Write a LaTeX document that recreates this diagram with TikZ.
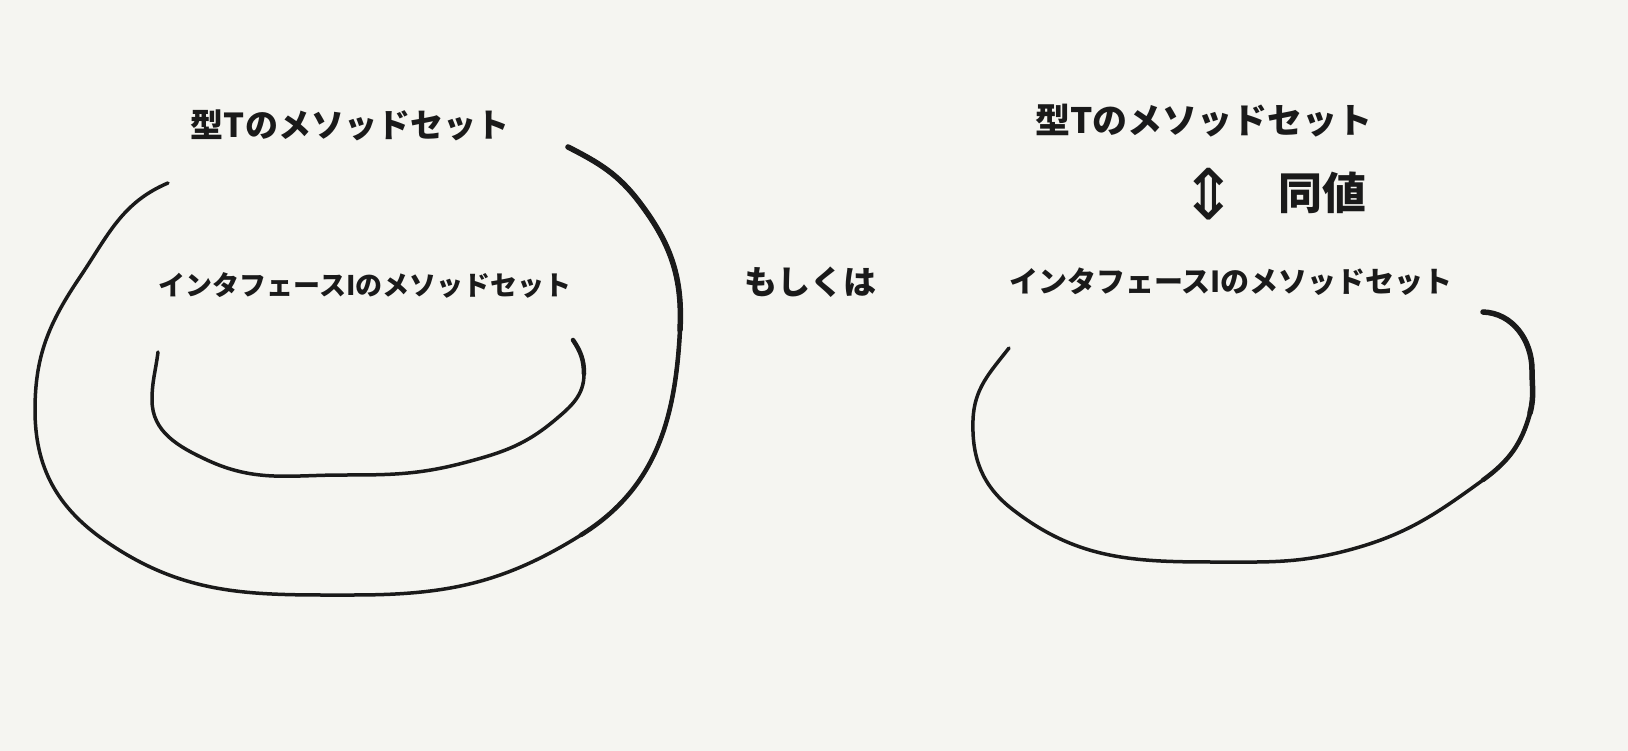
\documentclass[tikz,border=0pt]{standalone}
\usepackage{fontspec}
\newfontfamily\jp{Noto Sans CJK JP}
\newfontfamily\sym{DejaVu Sans}
\definecolor{bg}{HTML}{F5F5F1}
\definecolor{ink}{HTML}{1A1A1A}
\tikzset{
  curve/.style={draw=ink, line width=3.5pt, line cap=round, line join=round},
  mid end/.style={curve, line width=4.5pt},
  thick end/.style={curve, line width=5.5pt},
  lab/.style={text=ink, inner sep=0pt, font=\jp\bfseries\fontsize{33}{33}\selectfont},
  labsm/.style={text=ink, inner sep=0pt, font=\jp\bfseries\fontsize{27}{27}\selectfont}
}
\begin{document}
\begin{tikzpicture}[x=1pt,y=-1pt]
\fill[bg] (0,0) rectangle (1628,751);
\useasboundingbox (0,0) rectangle (1628,751);
% left outer
\draw[curve] (168,183) to[out=-157, in=-304] (80,277)
  to[out=-124, in=-270] (35,410)
  to[out=-90, in=-215] (104,540)
  to[out=-35, in=-180] (353,595)
  to[out=0, in=-148] (581,535)
  to[out=-328, in=-93] (680,330)
  to[out=-273, in=-53] (640,203)
  to[out=-233, in=-27] (568,147);
\draw[mid end] (581,535) to[out=-328, in=-93] (680,330)
  to[out=-273, in=-53] (640,203)
  to[out=-233, in=-27] (568,147);
\draw[thick end] (680,330) to[out=-273, in=-53] (640,203)
  to[out=-233, in=-27] (568,147);
% left inner
\draw[curve] (158,352) to[out=-97, in=-270] (152,400)
  to[out=-90, in=-205] (207,460)
  to[out=-25, in=-180] (343,475)
  to[out=0, in=-165] (467,462)
  to[out=-345, in=-140] (555,420)
  to[out=-320, in=-90] (584,374)
  to[out=-270, in=-56] (573,340);
\draw[mid end] (584,374) to[out=-270, in=-56] (573,340);
% right
\draw[curve] (1009,348) to[out=-128, in=-272] (973,420)
  to[out=-92, in=-218] (1012,509)
  to[out=-38, in=-180] (1214,562)
  to[out=0, in=-165] (1349,550)
  to[out=-345, in=-144] (1483,480)
  to[out=-324, in=-105] (1530,413)
  to[out=-285, in=-90] (1532,370)
  to[out=-270, in=-2] (1483,312);
\draw[mid end] (1483,480) to[out=-324, in=-105] (1530,413)
  to[out=-285, in=-90] (1532,370)
  to[out=-270, in=-2] (1483,312);
\draw[thick end] (1530,413) to[out=-285, in=-90] (1532,370)
  to[out=-270, in=-2] (1483,312);
\node[lab] (lt) at (350,125) {型Tのメソッドセット};
\node[labsm] (li) at (365,285) {インタフェースIのメソッドセット};
\node[lab] (or) at (810,282) {もしくは};
\node[lab, font=\jp\bfseries\fontsize{35}{35}\selectfont] (rt) at (1204,121) {型Tのメソッドセット};
\node[text=ink, inner sep=0pt, font=\sym\fontsize{70}{70}\selectfont] (eq) at (1209,194) {⇕};
\node[lab, font=\jp\bfseries\fontsize{44}{44}\selectfont] (eqt) at (1322,193) {同値};
\node[labsm, font=\jp\bfseries\fontsize{29}{29}\selectfont] (ri) at (1231,282) {インタフェースIのメソッドセット};
\end{tikzpicture}
\end{document}
